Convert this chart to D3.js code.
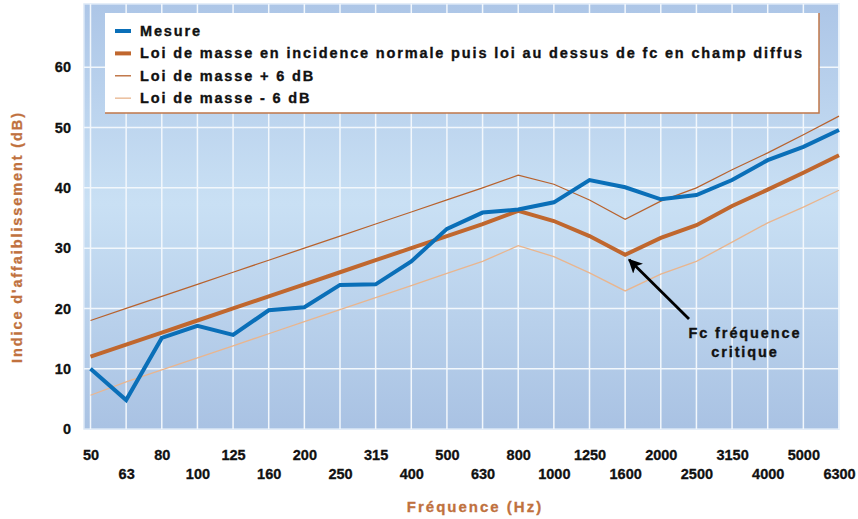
<!DOCTYPE html>
<html><head><meta charset="utf-8">
<script src="https://cdn.jsdelivr.net/npm/d3@7"></script>
<style>
body{margin:0;background:#fff;}
svg{display:block;font-family:"Liberation Sans",Arial,Helvetica,sans-serif;font-weight:bold;}
</style></head>
<body><svg id="c" width="858" height="519"></svg>
<script>
const categories = ["50","63","80","100","125","160","200","250","315","400","500","630","800","1000","1250","1600","2000","2500","3150","4000","5000","6300"];
const mesure = [10,4.8,15.1,17.1,15.6,19.7,20.2,23.9,24,27.8,33.2,35.9,36.4,37.6,41.3,40.1,38.1,38.8,41.3,44.6,46.8,49.6];
const loiMasse = [12,14,16,18,20,22,24,26,28,30,32,34,36.2,34.5,32,28.9,31.7,33.8,37,39.7,42.5,45.4];
const loiPlus6 = [18,20,22,24,26,28,30,32,34,36,38,40,42.1,40.6,38,34.8,37.8,40,43,45.8,48.8,51.9];
const loiMoins6 = [5.6,7.8,9.8,11.8,13.8,15.8,17.8,19.8,21.8,23.8,25.8,27.8,30.4,28.6,25.9,22.9,25.7,27.8,31,34.2,36.8,39.6];
const yTicks = [0,10,20,30,40,50,60];
const legendLabels = ["Mesure","Loi de masse en incidence normale puis loi au dessus de fc en champ diffus","Loi de masse + 6 dB","Loi de masse - 6 dB"];
const annotationLines = ["Fc fréquence","critique"];
const annotatedCategory = "1600";

const svg = d3.select("#c");
const plot = {x0:84, x1:839, y0:4, y1:429};
const x = d3.scalePoint().domain(categories).range([90.5, 839]).padding(0);
const y = d3.scaleLinear().domain([0,70.5]).range([plot.y1, plot.y0]);

const defs = svg.append("defs");
const grad = defs.append("linearGradient").attr("id","bg").attr("x1",0).attr("y1",0).attr("x2",0).attr("y2",1);
grad.append("stop").attr("offset","0%").attr("stop-color","#adc6e7");
grad.append("stop").attr("offset","47%").attr("stop-color","#c9e0f4");
grad.append("stop").attr("offset","100%").attr("stop-color","#a9c2e3");
const mk = defs.append("marker").attr("id","arr").attr("viewBox","0 0 10 10").attr("refX",9).attr("refY",5)
  .attr("markerWidth",5).attr("markerHeight",5).attr("orient","auto").attr("markerUnits","strokeWidth");
mk.append("path").attr("d","M0,0 L10,5 L0,10 L2.5,5 Z").attr("fill","#000");

svg.append("rect").attr("x",plot.x0).attr("y",plot.y0).attr("width",plot.x1-plot.x0).attr("height",plot.y1-plot.y0)
  .attr("fill","url(#bg)").attr("stroke","#dce8f6").attr("stroke-width",1.5);

// grid
svg.append("g").selectAll("line").data(categories).join("line")
  .attr("x1",d=>x(d)).attr("x2",d=>x(d)).attr("y1",plot.y0).attr("y2",plot.y1)
  .attr("stroke","#f2f7fc").attr("stroke-width",1.5);
svg.append("g").selectAll("line").data(yTicks.filter(v=>v>0)).join("line")
  .attr("x1",plot.x0).attr("x2",plot.x1).attr("y1",d=>y(d)).attr("y2",d=>y(d))
  .attr("stroke","#f2f7fc").attr("stroke-width",1.5);

// legend box
const lg = svg.append("g");
lg.append("rect").attr("x",105).attr("y",13).attr("width",714).attr("height",100).attr("fill","#fff");
lg.append("path").attr("d","M819,13 L819,113 L105,113").attr("fill","none").attr("stroke","#c0774a").attr("stroke-width",1.5);
const legendStyles = [
  {c:"#0a6fb8",w:4},{c:"#c0672e",w:4},{c:"#b8622d",w:1.3},{c:"#ecc2a2",w:1.6}
];
legendLabels.forEach((t,i)=>{
  const yy = 31 + i*22.4;
  lg.append("line").attr("x1",115).attr("x2",131).attr("y1",yy).attr("y2",yy)
    .attr("stroke",legendStyles[i].c).attr("stroke-width",legendStyles[i].w);
  lg.append("text").attr("x",140).attr("y",yy+5).attr("font-size",14.5).attr("letter-spacing",1.85)
    .attr("fill","#111").attr("stroke","#111").attr("stroke-width",0.35).text(t);
});

// lines
const line = d3.line().x((d,i)=>x(categories[i])).y(d=>y(d));
const series = [
  {data:loiMoins6,c:"#e9b58e",w:1.3},
  {data:loiPlus6,c:"#b8622d",w:1.2},
  {data:loiMasse,c:"#c0672e",w:4},
  {data:mesure,c:"#0a6fb8",w:4}
];
series.forEach(s=>{
  svg.append("path").datum(s.data).attr("d",line).attr("fill","none")
    .attr("stroke",s.c).attr("stroke-width",s.w).attr("stroke-linejoin","miter");
});

// axes
const yAxis = d3.axisLeft(y).tickValues(yTicks).tickSize(0).tickPadding(13).tickFormat(d3.format("d"));
const ya = svg.append("g").attr("transform",`translate(${plot.x0},0)`).call(yAxis);
ya.select(".domain").remove();
ya.selectAll("text").attr("font-size",14.5).attr("font-family","inherit").attr("font-weight","bold").attr("fill","#111")
  .attr("stroke","#111").attr("stroke-width",0.3);

const xAxis = d3.axisBottom(x).tickSize(0).tickPadding(0);
const xa = svg.append("g").attr("transform",`translate(0,${plot.y1})`).call(xAxis);
xa.select(".domain").remove();
xa.selectAll("text").attr("font-size",14.5).attr("font-family","inherit").attr("font-weight","bold").attr("fill","#111")
  .attr("stroke","#111").attr("stroke-width",0.3)
  .attr("dy",null).attr("y",(d,i)=> i%2===0 ? 31 : 50);

// axis titles
svg.append("text").attr("x",475).attr("y",512).attr("text-anchor","middle").attr("font-size",15)
  .attr("letter-spacing",2).attr("fill","#c0713e").attr("stroke","#c0713e").attr("stroke-width",0.3).text("Fréquence (Hz)");
svg.append("text").attr("transform","translate(22,237) rotate(-90)").attr("text-anchor","middle").attr("font-size",14.5)
  .attr("letter-spacing",1.9).attr("fill","#c0713e").attr("stroke","#c0713e").attr("stroke-width",0.3).text("Indice d'affaiblissement (dB)");

// annotation
const ai = categories.indexOf(annotatedCategory);
const tipX = x(annotatedCategory)+4, tipY = y(loiMasse[ai])+5;
svg.append("line").attr("x1",689).attr("y1",319).attr("x2",tipX).attr("y2",tipY)
  .attr("stroke","#000").attr("stroke-width",2.8).attr("marker-end","url(#arr)");
annotationLines.forEach((t,i)=>{
  svg.append("text").attr("x",745).attr("y",338+i*19).attr("text-anchor","middle").attr("font-size",14.5)
    .attr("letter-spacing",1.9).attr("fill","#111").attr("stroke","#111").attr("stroke-width",0.35).text(t);
});
</script></body></html>
